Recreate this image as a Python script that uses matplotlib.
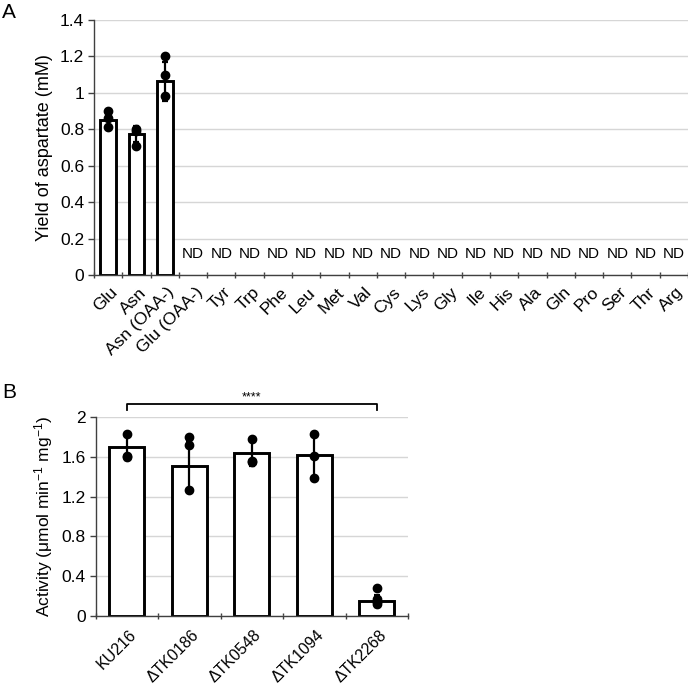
import matplotlib
matplotlib.use("Agg")
import matplotlib.pyplot as plt
import matplotlib.transforms as mtransforms
import numpy as np

plt.rcParams['font.family'] = ['Liberation Sans', 'DejaVu Sans']
plt.rcParams['mathtext.default'] = 'regular'

# ---------- Panel A data ----------
a_categories = ["Glu", "Asn", "Asn (OAA-)", "Glu (OAA-)", "Tyr", "Trp", "Phe", "Leu",
                "Met", "Val", "Cys", "Lys", "Gly", "Ile", "His", "Ala", "Gln", "Pro",
                "Ser", "Thr", "Arg"]
a_means = [0.853, 0.775, 1.063]
a_err = [0.045, 0.045, 0.105]
a_points = [[0.90, 0.86, 0.81], [0.80, 0.79, 0.71], [1.20, 1.10, 0.985]]
a_nd_label = "ND"
a_yticks = [0, 0.2, 0.4, 0.6, 0.8, 1.0, 1.2, 1.4]
a_yticklabels = ["0", "0.2", "0.4", "0.6", "0.8", "1", "1.2", "1.4"]

# ---------- Panel B data ----------
b_categories = ["KU216", "ΔTK0186", "ΔTK0548", "ΔTK1094", "ΔTK2268"]
b_means = [1.695, 1.505, 1.635, 1.615, 0.151]
b_err = [0.13, 0.25, 0.13, 0.22, 0.06]
b_points = [[1.83, 1.61, 1.60], [1.80, 1.72, 1.27], [1.78, 1.56, 1.55],
            [1.83, 1.61, 1.39], [0.28, 0.17, 0.14, 0.12]]
b_yticks = [0, 0.4, 0.8, 1.2, 1.6, 2.0]
b_yticklabels = ["0", "0.4", "0.8", "1.2", "1.6", "2"]
b_sig = "****"

W, H = 688, 686
fig = plt.figure(figsize=(W / 100, H / 100), dpi=100)

def style_axes(ax, xlabelsize, xpad):
    ax.set_facecolor('white')
    for s in ['top', 'right']:
        ax.spines[s].set_visible(False)
    ax.spines['left'].set_color('#404040')
    ax.spines['bottom'].set_color('#404040')
    ax.spines['left'].set_linewidth(1.0)
    ax.spines['bottom'].set_linewidth(1.0)
    ax.yaxis.grid(True, color='#d6d6d6', linewidth=1.0)
    ax.set_axisbelow(True)
    ax.tick_params(axis='y', length=4, width=1.0, color='#404040', labelsize=12.5, pad=3)
    ax.tick_params(axis='x', which='major', length=0, labelsize=xlabelsize, pad=xpad)
    ax.tick_params(axis='x', which='minor', length=5, width=1.0, color='#404040', direction='inout')

def rotate_labels(ax, labels):
    ax.set_xticklabels(labels, rotation=45, ha='right', va='top', rotation_mode='anchor')
    off = mtransforms.ScaledTranslation(2 / 100, 0, fig.dpi_scale_trans)
    for lab in ax.get_xticklabels():
        lab.set_transform(lab.get_transform() + off)

# ---------- Panel A ----------
axA = fig.add_axes([94 / W, 1 - 275 / H, (688 - 94) / W, (275 - 20) / H])
style_axes(axA, 12.5, 7)
n = len(a_categories)
xa = np.arange(n)
axA.bar(xa[:len(a_means)], a_means, width=0.56, color='white', edgecolor='black',
        linewidth=2.1, zorder=2)
axA.errorbar(xa[:len(a_means)], a_means, yerr=a_err, fmt='none', ecolor='black',
             elinewidth=1.6, capsize=2.5, capthick=1.6, zorder=3)
for i, pts in enumerate(a_points):
    axA.plot([xa[i]] * len(pts), pts, 'o', color='black', markersize=6, zorder=4)
for i in range(len(a_means), n):
    axA.text(xa[i], 0.115, a_nd_label, ha='center', va='center', fontsize=11)
axA.set_xlim(-0.5, n - 0.5)
axA.set_ylim(0, 1.4)
axA.set_yticks(a_yticks)
axA.set_yticklabels(a_yticklabels)
axA.set_xticks(xa)
rotate_labels(axA, a_categories)
axA.set_xticks(np.arange(n + 1) - 0.5, minor=True)
axA.set_ylabel("Yield of aspartate (mM)", fontsize=13, labelpad=5)
fig.text(2 / W, 1 - 12 / H, "A", fontsize=15, ha='left', va='center')

# ---------- Panel B ----------
axB = fig.add_axes([95.5 / W, 1 - 616 / H, (408 - 95.5) / W, (616 - 417) / H])
style_axes(axB, 11.5, 8)
m = len(b_categories)
xb = np.arange(m)
axB.bar(xb, b_means, width=0.56, color='white', edgecolor='black', linewidth=2.1, zorder=2)
axB.errorbar(xb, b_means, yerr=b_err, fmt='none', ecolor='black', elinewidth=1.6,
             capsize=2.5, capthick=1.6, zorder=3)
for i, pts in enumerate(b_points):
    axB.plot([xb[i]] * len(pts), pts, 'o', color='black', markersize=6, zorder=4)
axB.set_xlim(-0.5, m - 0.5)
axB.set_ylim(0, 2.0)
axB.set_yticks(b_yticks)
axB.set_yticklabels(b_yticklabels)
axB.set_xticks(xb)
rotate_labels(axB, b_categories)
axB.set_xticks(np.arange(m + 1) - 0.5, minor=True)
axB.set_ylabel("Activity (μmol min$^{-1}$ mg$^{-1}$)", fontsize=12.5, labelpad=5)
# significance bracket
ytop, ydrop = 2.13, 2.07
axB.plot([xb[0], xb[0], xb[-1], xb[-1]], [ydrop, ytop, ytop, ydrop], color='black',
         linewidth=1.3, clip_on=False)
axB.text((xb[0] + xb[-1]) / 2, ytop + 0.01, b_sig, ha='center', va='bottom', fontsize=9)
fig.text(2 / W, 1 - 393 / H, "B", fontsize=15, ha='left', va='center')

fig.savefig("out.png", dpi=100, facecolor='white')
